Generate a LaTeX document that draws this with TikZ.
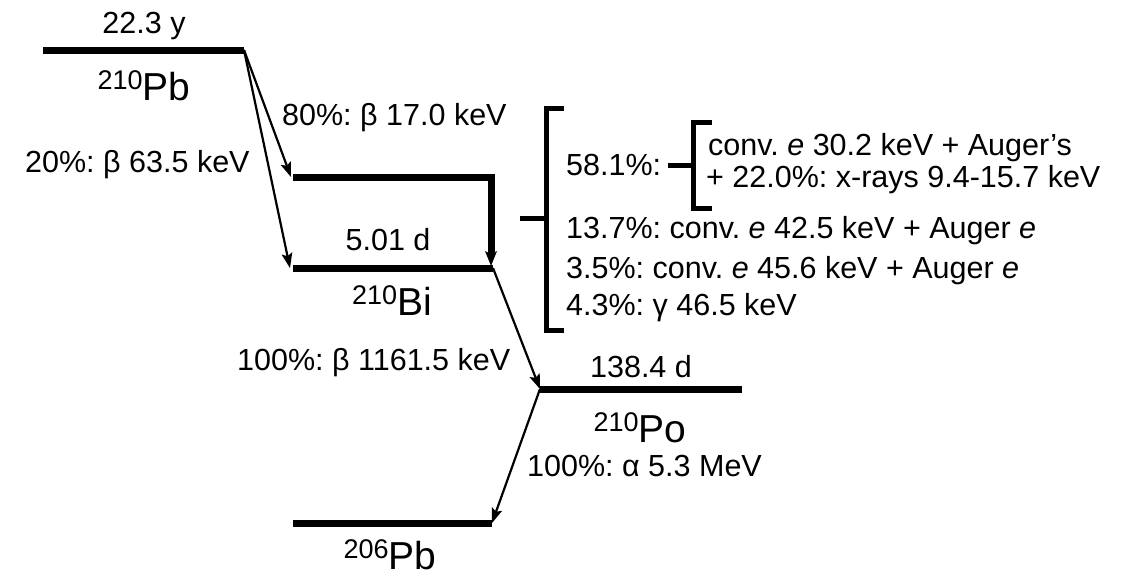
\documentclass[tikz,border=0pt]{standalone}
\usepackage{fontspec}
\setmainfont{Liberation Sans}
\frenchspacing
\usetikzlibrary{arrows.meta}
\newcommand{\nucl}[2]{\raisebox{11pt}{\fontsize{27}{30}\selectfont #1}\fontsize{39}{44}\selectfont #2}
\begin{document}
\begin{tikzpicture}[x=1pt,y=-1pt,
  level/.style={line width=7pt},
  brk/.style={line width=5pt},
  arr/.style={line width=2.2pt,-{Stealth[length=15pt,width=11pt,inset=3pt,line width=0pt]}},
  lab/.style={inner sep=0pt,font=\fontsize{30.5}{36}\selectfont},
  nuc/.style={inner sep=0pt}]
\useasboundingbox (0,0) rectangle (1140,576);
% level coordinates
\coordinate (PbL) at (43,50);   \coordinate (PbR) at (244,50);
\coordinate (MidL) at (293,177); \coordinate (MidR) at (491,177);
\coordinate (MidV) at (491,252);
\coordinate (BiL) at (293,268); \coordinate (BiR) at (493,268);
\coordinate (PoL) at (540,389); \coordinate (PoR) at (742,389);
\coordinate (FL) at (293,523);  \coordinate (FR) at (492,523);
% levels
\draw[level] (PbL) -- (PbR);
\draw[level] (MidL) -- (MidR) -- (MidV);
\draw[level] (BiL) -- (BiR);
\draw[level] (PoL) -- (PoR);
\draw[level] (FL) -- (FR);
% transitions
\coordinate (BiTop) at (491,266);
\draw[line width=6pt,-{Stealth[length=15pt,width=12pt,inset=3pt,line width=0pt]}] (MidV) -- (BiTop);
\draw[arr] (PbR) -- ([xshift=-2pt]MidL);
\draw[arr] (PbR) -- ([xshift=-3pt]BiL);
\draw[arr] (BiR) -- (PoL);
\draw[arr] (PoL) -- (FR);
% brackets
\coordinate (B1t) at (564,108); \coordinate (B1b) at (564,330);
\coordinate (B1m) at (520,218);
\draw[brk] (B1t) -- (546,108) -- (546,330) -- (B1b);
\draw[brk] (B1m) -- (546,218);
\coordinate (B2t) at (712,122); \coordinate (B2b) at (712,208);
\coordinate (B2m) at (668,165);
\draw[brk] (B2t) -- (693,122) -- (693,208) -- (B2b);
\draw[brk] (B2m) -- (693,165);
% labels
\node[lab,anchor=base] (hPb) at (144,33) {22.3 y};
\node[nuc,anchor=base] (nPb) at (144,100) {\nucl{210}{Pb}};
\node[lab,anchor=base west] (b80) at (282,125) {80\%: β 17.0 keV};
\node[lab,anchor=base west] (b20) at (25,172) {20\%: β 63.5 keV};
\node[lab,anchor=base] (hBi) at (388,250) {5.01 d};
\node[nuc,anchor=base] (nBi) at (392,315) {\nucl{210}{Bi}};
\node[lab,anchor=base west] (b100) at (237,370) {100\%: β 1161.5 keV};
\node[lab,anchor=base] (hPo) at (641,377) {138.4 d};
\node[nuc,anchor=base] (nPo) at (640,442) {\nucl{210}{Po}};
\node[lab,anchor=base west] (a100) at (527,476) {100\%: α 5.3 MeV};
\node[nuc,anchor=base] (nPbf) at (390,569) {\nucl{206}{Pb}};
% conversion texts
\node[lab,anchor=base west] (c58) at (566,175) {58.1\%:};
\node[lab,anchor=base west] (c58a) at (708,155) {conv. \textit{e} 30.2 keV + Auger’s};
\node[lab,anchor=base west] (c58b) at (706,187) {+ 22.0\%: x-rays 9.4-15.7 keV};
\node[lab,anchor=base west] (c13) at (566,238) {13.7\%: conv. \textit{e} 42.5 keV + Auger \textit{e}};
\node[lab,anchor=base west] (c35) at (566,278) {3.5\%: conv. \textit{e} 45.6 keV + Auger \textit{e}};
\node[lab,anchor=base west] (c43) at (566,315) {4.3\%: γ 46.5 keV};
\end{tikzpicture}
\end{document}
